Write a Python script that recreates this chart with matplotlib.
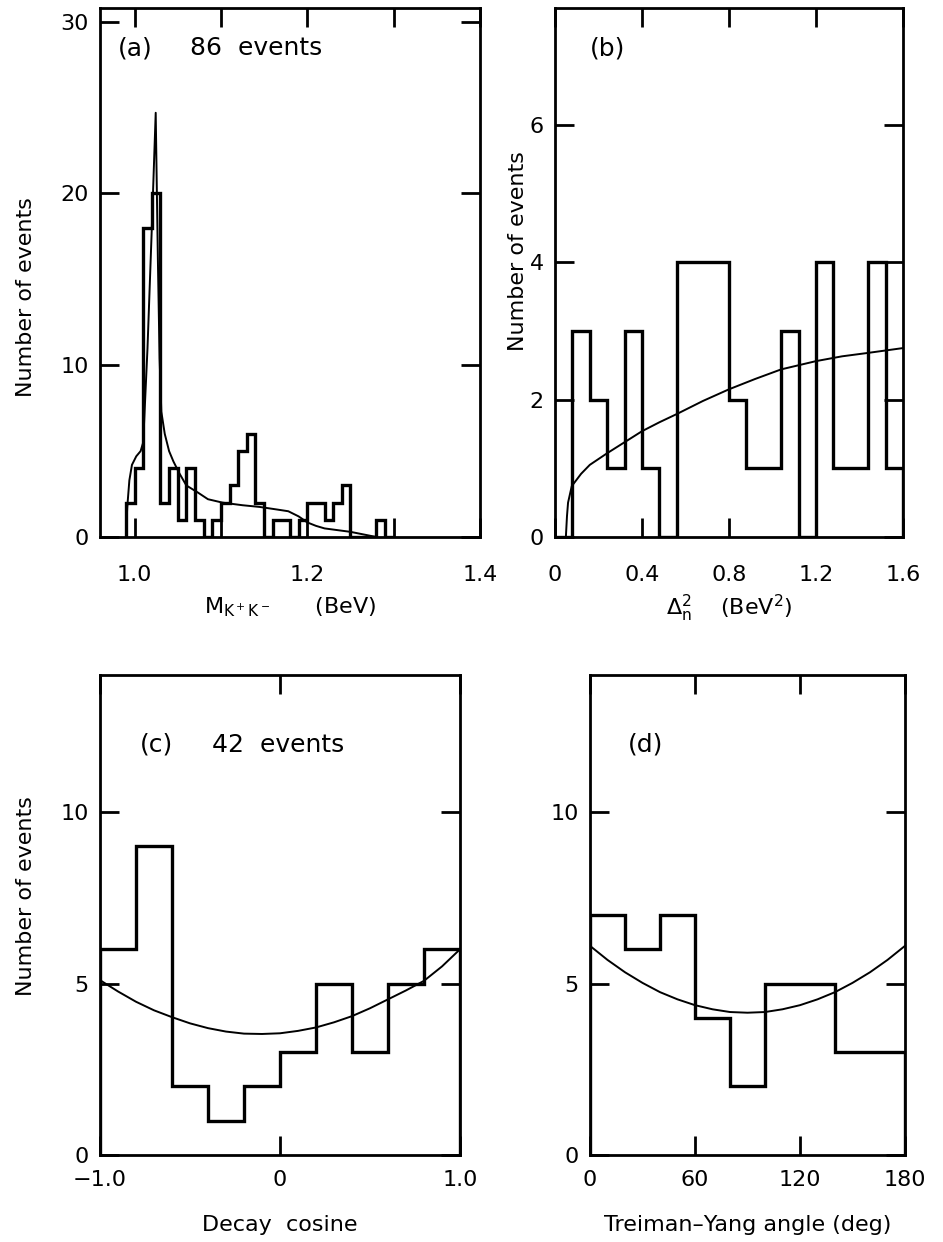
import matplotlib
matplotlib.use("Agg")
import matplotlib.pyplot as plt

plt.rcParams['font.family'] = ['DejaVu Sans']
plt.rcParams['mathtext.fontset'] = 'dejavusans'

# ---- panel (a): K+K- mass ----
mass_edges = [0.99 + 0.01 * i for i in range(32)]
mass_counts = [2, 4, 18, 20, 2, 4, 1, 4, 1, 0, 1, 2, 3, 5, 6, 2,
               0, 1, 1, 0, 1, 2, 2, 1, 2, 3, 0, 0, 0, 1, 0]
mass_fit_x = [0.990, 0.9915, 0.994, 0.997, 1.002, 1.007, 1.010, 1.015, 1.020,
              1.0245, 1.027, 1.029, 1.031, 1.035, 1.040, 1.045, 1.052, 1.060,
              1.073, 1.085, 1.102, 1.125, 1.145, 1.165, 1.178, 1.190, 1.200,
              1.210, 1.220, 1.235, 1.250, 1.265, 1.280]
mass_fit_y = [0.0, 1.7, 3.3, 4.2, 4.7, 5.0, 5.5, 11.0, 18.0,
              24.7, 16.2, 10.4, 7.3, 6.0, 5.0, 4.4, 3.7, 3.0,
              2.6, 2.2, 2.0, 1.85, 1.75, 1.6, 1.5, 1.2, 0.85,
              0.65, 0.5, 0.4, 0.3, 0.15, 0.0]

# ---- panel (b): momentum transfer ----
delta_edges = [0.08 * i for i in range(21)]
delta_counts = [0, 3, 2, 1, 3, 1, 0, 4, 4, 4, 2, 1, 1, 3, 0, 4, 1, 1, 4, 1]
delta_fit_x = [0.05, 0.055, 0.06, 0.077, 0.12, 0.16, 0.24, 0.32, 0.40, 0.48,
               0.56, 0.68, 0.80, 0.92, 1.04, 1.20, 1.32, 1.44, 1.60]
delta_fit_y = [0.0, 0.3, 0.5, 0.74, 0.92, 1.05, 1.22, 1.38, 1.54, 1.67,
               1.79, 1.98, 2.15, 2.30, 2.44, 2.56, 2.63, 2.68, 2.75]

# ---- panel (c): decay cosine ----
cos_edges = [-1.0, -0.8, -0.6, -0.4, -0.2, 0.0, 0.2, 0.4, 0.6, 0.8, 1.0]
cos_counts = [6, 9, 2, 1, 2, 3, 5, 3, 5, 6]
cos_fit_x = [-1.0, -0.9, -0.8, -0.7, -0.6, -0.5, -0.4, -0.3, -0.2, -0.1, 0.0,
             0.1, 0.2, 0.3, 0.4, 0.5, 0.6, 0.7, 0.8, 0.9, 1.0]
cos_fit_y = [5.10, 4.77, 4.47, 4.22, 4.02, 3.84, 3.70, 3.60, 3.54, 3.53, 3.55,
             3.62, 3.72, 3.87, 4.05, 4.28, 4.54, 4.80, 5.08, 5.50, 6.00]

# ---- panel (d): Treiman-Yang angle ----
ty_edges = [0, 20, 40, 60, 80, 100, 120, 140, 160, 180]
ty_counts = [7, 6, 7, 4, 2, 5, 5, 3, 3]
ty_fit_x = [0, 10, 20, 30, 40, 50, 60, 70, 80, 90, 100, 110, 120, 130, 140,
            150, 160, 170, 180]
ty_fit_y = [6.10, 5.69, 5.33, 5.02, 4.75, 4.54, 4.37, 4.25, 4.17, 4.15, 4.17,
            4.25, 4.37, 4.54, 4.75, 5.02, 5.33, 5.69, 6.10]

W, H = 943, 1242
fig = plt.figure(figsize=(W / 100, H / 100), dpi=100)


def make_axes(x0, x1, y0, y1):
    return fig.add_axes([x0 / W, 1 - y1 / H, (x1 - x0) / W, (y1 - y0) / H])


def style(ax, xpad):
    for s in ax.spines.values():
        s.set_linewidth(2.0)
    ax.tick_params(direction='in', length=14, width=2.0, top=True, right=True,
                   labelsize=16)
    ax.tick_params(axis='x', pad=xpad)
    ax.tick_params(axis='y', pad=8)


HIST_LW = 2.4
FIT_LW = 1.4
FS = 16
TS = 18

# (a)
ax = make_axes(100, 480, 8, 537)
ax.stairs(mass_counts, mass_edges, color='black', lw=HIST_LW, baseline=0)
ax.plot(mass_fit_x, mass_fit_y, color='black', lw=FIT_LW)
ax.set_xlim(0.96, 1.4)
ax.set_ylim(0, 30.8)
ax.set_xticks([1.0, 1.1, 1.2, 1.3, 1.4])
ax.set_xticklabels(['1.0', '', '1.2', '', '1.4'])
ax.set_yticks([0, 10, 20, 30])
style(ax, 20)
ax.set_xlabel(r'$\mathregular{M_{K^+K^-}}$      (BeV)', fontsize=FS, labelpad=8)
ax.set_ylabel('Number of events', fontsize=FS)
ax.yaxis.set_label_coords(-0.168, 0.454)
ax.text(0.047, 0.911, '(a)', transform=ax.transAxes, fontsize=TS)
ax.text(0.237, 0.911, '86  events', transform=ax.transAxes, fontsize=TS)

# (b)
ax = make_axes(555, 903, 8, 537)
ax.stairs(delta_counts, delta_edges, color='black', lw=HIST_LW, baseline=0)
ax.plot(delta_fit_x, delta_fit_y, color='black', lw=FIT_LW)
ax.set_xlim(0, 1.6)
ax.set_ylim(0, 7.7)
ax.set_xticks([0, 0.4, 0.8, 1.2, 1.6])
ax.set_xticklabels(['0', '0.4', '0.8', '1.2', '1.6'])
ax.set_yticks([0, 2, 4, 6])
style(ax, 20)
ax.set_xlabel(r'$\mathregular{\Delta^2_n}$    (BeV$^\mathregular{2}$)',
              fontsize=FS, labelpad=6)
ax.set_ylabel('Number of events', fontsize=FS)
ax.yaxis.set_label_coords(-0.077, 0.54)
ax.text(0.10, 0.911, '(b)', transform=ax.transAxes, fontsize=TS)

# (c)
ax = make_axes(100, 460, 675, 1155)
ax.stairs(cos_counts, cos_edges, color='black', lw=HIST_LW, baseline=0)
ax.plot(cos_fit_x, cos_fit_y, color='black', lw=FIT_LW)
ax.set_xlim(-1.0, 1.0)
ax.set_ylim(0, 14)
ax.set_xticks([-1.0, 0, 1.0])
ax.set_xticklabels(['\u22121.0', '0', '1.0'])
ax.set_yticks([0, 5, 10])
style(ax, 11)
ax.set_xlabel('Decay  cosine', fontsize=FS, labelpad=18)
ax.set_ylabel('Number of events', fontsize=FS)
ax.yaxis.set_label_coords(-0.178, 0.54)
ax.text(0.11, 0.84, '(c)', transform=ax.transAxes, fontsize=TS)
ax.text(0.31, 0.84, '42  events', transform=ax.transAxes, fontsize=TS)

# (d)
ax = make_axes(590, 905, 675, 1155)
ax.stairs(ty_counts, ty_edges, color='black', lw=HIST_LW, baseline=0)
ax.plot(ty_fit_x, ty_fit_y, color='black', lw=FIT_LW)
ax.set_xlim(0, 180)
ax.set_ylim(0, 14)
ax.set_xticks([0, 60, 120, 180])
ax.set_yticks([0, 5, 10])
style(ax, 11)
ax.set_xlabel('Treiman\u2013Yang angle (deg)', fontsize=FS, labelpad=18)
ax.text(0.12, 0.84, '(d)', transform=ax.transAxes, fontsize=TS)

fig.savefig('out.png', dpi=100)
